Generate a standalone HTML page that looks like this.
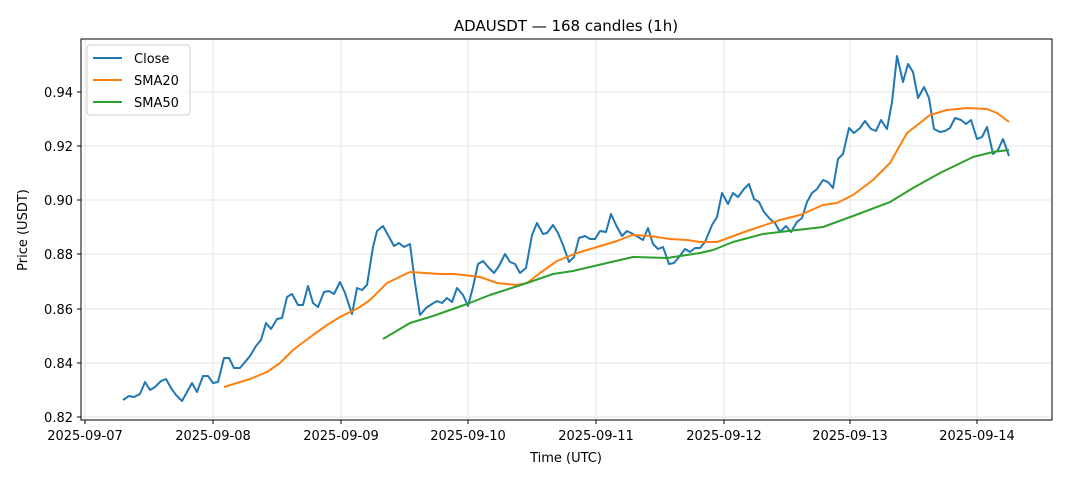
<!DOCTYPE html>
<html><head><meta charset="utf-8"><style>body{margin:0;background:#fff}svg{display:block;font-family:"DejaVu Sans","Liberation Sans",sans-serif}</style></head><body>
<svg width="1068" height="481" viewBox="0 0 1068 481">
<g stroke="#e5e5e5" stroke-width="1">
<line x1="85" y1="39" x2="85" y2="420"/><line x1="213" y1="39" x2="213" y2="420"/><line x1="341" y1="39" x2="341" y2="420"/><line x1="468" y1="39" x2="468" y2="420"/><line x1="596" y1="39" x2="596" y2="420"/><line x1="724" y1="39" x2="724" y2="420"/><line x1="850" y1="39" x2="850" y2="420"/><line x1="977" y1="39" x2="977" y2="420"/>
<line x1="81" y1="417" x2="1052" y2="417"/><line x1="81" y1="363" x2="1052" y2="363"/><line x1="81" y1="309" x2="1052" y2="309"/><line x1="81" y1="254" x2="1052" y2="254"/><line x1="81" y1="200" x2="1052" y2="200"/><line x1="81" y1="146" x2="1052" y2="146"/><line x1="81" y1="92" x2="1052" y2="92"/>
</g>
<g fill="none" stroke-width="2" stroke-linejoin="round">
<polyline stroke="#1f77b4" points="123,400 129,396 134,397 140,394 145,382 150,390 155,387 161,381 166,379 171,388 176,395 182,401 187,392 192,383 197,392 203,376 208,376 213,383 218,382 224,358 229,358 234,368 240,368 245,362 250,356 256,346 261,340 266,323 271,329 277,319 282,318 287,297 292,294 298,305 303,305 308,286 313,303 318,307 324,292 329,291 334,294 340,282 345,293 352,314 357,288 362,290 367,285 373,247 377,231 383,226 388,235 394,246 399,243 404,247 410,244 415,283 420,315 426,308 432,304 437,301 442,303 447,298 452,302 457,288 463,295 468,306 473,287 478,264 483,261 489,268 494,273 499,266 505,254 510,262 515,264 520,273 526,268 532,235 537,223 543,234 547,233 553,225 558,233 563,245 569,262 574,257 579,238 585,236 590,239 595,239 600,231 606,232 611,214 616,225 622,236 627,231 633,234 638,237 643,240 648,228 653,244 658,249 663,247 669,264 674,263 679,257 685,249 690,252 695,248 700,248 705,242 712,225 717,217 722,193 728,204 733,193 738,197 744,189 749,184 754,199 759,202 764,212 770,219 775,223 780,232 786,226 791,232 797,222 802,218 807,202 812,193 817,189 823,180 828,182 833,188 838,159 843,154 849,128 854,133 860,128 865,121 871,129 876,131 881,120 887,129 892,102 897,56 903,82 908,64 913,72 918,98 924,87 929,98 934,129 940,132 945,131 950,128 955,118 961,120 966,124 971,120 977,139 982,137 987,127 993,154 998,150 1003,139 1009,156"/>
<polyline stroke="#ff7f0e" points="224,387 250,379 267,372 280,363 293,350 313,335 327,325 340,317 360,307 370,300 387,283 410,272 440,274 455,274 480,277 497,283 517,285 527,283 540,273 557,261 577,253 597,247 617,241 632,235 650,236 670,239 687,240 700,242 717,242 747,231 780,220 800,215 823,205 837,203 853,195 873,180 890,163 907,133 930,115 947,110 967,108 987,109 997,113 1009,122"/>
<polyline stroke="#2ca02c" points="383,339 410,323 433,316 467,304 490,295 527,283 553,274 573,271 607,263 633,257 667,258 700,253 713,250 733,242 763,234 797,230 823,227 853,216 890,202 913,188 940,173 973,157 993,152 1009,150"/>
</g>
<rect x="81" y="39" width="971" height="381" fill="none" stroke="#000" stroke-width="1"/>
<g stroke="#000"><line x1="85" y1="420" x2="85" y2="424"/><line x1="213" y1="420" x2="213" y2="424"/><line x1="341" y1="420" x2="341" y2="424"/><line x1="468" y1="420" x2="468" y2="424"/><line x1="596" y1="420" x2="596" y2="424"/><line x1="724" y1="420" x2="724" y2="424"/><line x1="850" y1="420" x2="850" y2="424"/><line x1="977" y1="420" x2="977" y2="424"/>
<line x1="77" y1="417" x2="81" y2="417"/><line x1="77" y1="363" x2="81" y2="363"/><line x1="77" y1="309" x2="81" y2="309"/><line x1="77" y1="254" x2="81" y2="254"/><line x1="77" y1="200" x2="81" y2="200"/><line x1="77" y1="146" x2="81" y2="146"/><line x1="77" y1="92" x2="81" y2="92"/></g>
<g font-size="13" fill="#000" text-anchor="middle">
<text x="85" y="440">2025-09-07</text><text x="213" y="440">2025-09-08</text><text x="341" y="440">2025-09-09</text><text x="468" y="440">2025-09-10</text><text x="596" y="440">2025-09-11</text><text x="724" y="440">2025-09-12</text><text x="850" y="440">2025-09-13</text><text x="977" y="440">2025-09-14</text>
<text x="566" y="462">Time (UTC)</text>
<text x="566" y="31" font-size="15">ADAUSDT — 168 candles (1h)</text>
<text x="27" y="230" transform="rotate(-90 27 230)">Price (USDT)</text>
</g>
<g font-size="13" fill="#000" text-anchor="end">
<text x="73" y="422">0.82</text><text x="73" y="368">0.84</text><text x="73" y="314">0.86</text><text x="73" y="259">0.88</text><text x="73" y="205">0.90</text><text x="73" y="151">0.92</text><text x="73" y="97">0.94</text>
</g>
<rect x="87" y="45" width="103" height="70" rx="3" fill="#fff" fill-opacity="0.8" stroke="#ccc"/>
<g stroke-width="2"><line x1="93" y1="58" x2="122" y2="58" stroke="#1f77b4"/><line x1="93" y1="80" x2="122" y2="80" stroke="#ff7f0e"/><line x1="93" y1="102" x2="122" y2="102" stroke="#2ca02c"/></g>
<g font-size="13" fill="#000"><text x="134" y="63">Close</text><text x="134" y="85">SMA20</text><text x="134" y="107">SMA50</text></g>
</svg>
</body></html>
